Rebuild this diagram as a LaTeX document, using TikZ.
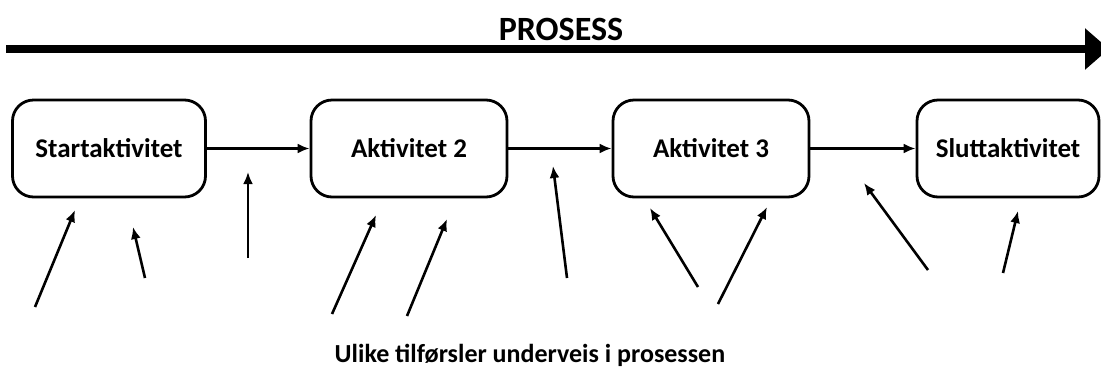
\documentclass[tikz,border=0pt]{standalone}
\usepackage{fontspec}
\setmainfont{Carlito}
\usetikzlibrary{arrows.meta}
\begin{document}
\begin{tikzpicture}[x=1pt,y=-1pt,
  activity/.style={draw=black, line width=2.8pt, rounded corners=21pt,
    minimum height=97pt, inner sep=0pt, font=\bfseries\fontsize{27}{30}\selectfont},
  flow/.style={line width=2.4pt, -{Latex[length=12pt,width=10pt]}},
  input/.style={line width=2.6pt, -{Latex[length=12pt,width=10pt]}}]
  \useasboundingbox (0,0) rectangle (1101,368);

  % process timeline
  \node[font=\bfseries\fontsize{34}{38}\selectfont, anchor=base] (title) at (561,40) {PROSESS};
  \coordinate (pstart) at (6,49);
  \coordinate (pend) at (1109,49);
  \draw[line width=8.5pt, -{Triangle[length=24pt,width=40pt]}] (pstart) -- (pend);

  % activities
  \node[activity, minimum width=193pt] (a1) at (109,148.5) {Startaktivitet};
  \node[activity, minimum width=196pt] (a2) at (409,148.5) {Aktivitet 2};
  \node[activity, minimum width=196pt] (a3) at (711,148.5) {Aktivitet 3};
  \node[activity, minimum width=182pt] (a4) at (1008,148.5) {Sluttaktivitet};

  \draw[flow] (a1) -- (a2);
  \draw[flow] (a2) -- (a3);
  \draw[flow] (a3) -- (a4);

  % inputs along the way
  \foreach \n/\tx/\ty/\hx/\hy in {
      1/35/307/75/210,
      2/145/278/133/227,
      3/248/258/248/172,
      4/332/314/376/215,
      5/407/316/447/219,
      6/567/278/553/166,
      7/698/287/650/208,
      8/718/304/767/207,
      9/928/270/864/183,
      10/1003/273/1018/211}{
    \coordinate (t\n) at (\tx,\ty);
    \coordinate (h\n) at (\hx,\hy);
    \draw[input] (t\n) -- (h\n);
  }

  \node[font=\bfseries\fontsize{26}{30}\selectfont, anchor=base] (inputs) at (530,362)
    {Ulike tilførsler underveis i prosessen};
\end{tikzpicture}
\end{document}
